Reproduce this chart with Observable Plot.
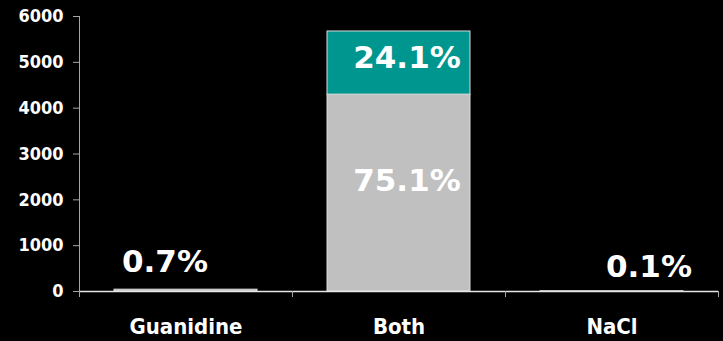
<!DOCTYPE html>
<html>
<head>
<meta charset="utf-8">
<script src="https://cdn.jsdelivr.net/npm/d3@7"></script>
<script src="https://cdn.jsdelivr.net/npm/@observablehq/plot@0.6"></script>
<style>
  html, body { margin: 0; padding: 0; background: #000; }
  #chart svg { display: block; }
</style>
</head>
<body>
<div id="chart"></div>
<script>
// Protein counts by denaturant condition, shown as shares of the total
const categories = ["Guanidine", "Both", "NaCl"];
const totalCount = 5719;
const lowerPct = [0.7, 75.1, 0.1];   // grey segment
const upperPct = [0, 24.1, 0];       // teal segment (Both only)
const yTicks = [0, 1000, 2000, 3000, 4000, 5000, 6000];

// Build stacked rectangles from the shares
const rows = [];
categories.forEach((cat, i) => {
  const low = lowerPct[i] * totalCount / 100;
  rows.push({cat, i, part: "lower", pct: lowerPct[i], y1: 0, y2: low});
  if (upperPct[i] > 0) {
    const up = upperPct[i] * totalCount / 100;
    rows.push({cat, i, part: "upper", pct: upperPct[i], y1: low, y2: low + up});
  }
});
const mid = r => (r.y1 + r.y2) / 2;
const pick = (cat, part) => rows.filter(r => r.cat === cat && r.part === part);
const labelStyle = {
  text: r => r.pct.toFixed(1) + "%",
  fill: "white",
  fontFamily: "'DejaVu Sans', sans-serif",
  fontSize: 31,
  fontWeight: "bold",
  textAnchor: "middle",
  lineAnchor: "middle"
};
const axisFont = "'DejaVu Sans Condensed', 'DejaVu Sans', sans-serif";

const chart = Plot.plot({
  width: 723,
  height: 341,
  marginLeft: 79,
  marginRight: 5,
  marginTop: 16,
  marginBottom: 50,
  style: {background: "#000", color: "white", fontFamily: axisFont},
  x: {type: "linear", domain: [0, 3], axis: null},
  y: {domain: [0, 6000], axis: null},
  marks: [
    Plot.rect(rows, {
      x1: "i", x2: r => r.i + 1, y1: "y1", y2: "y2",
      insetLeft: 35, insetRight: 35,
      fill: r => r.part === "upper" ? "#009690" : "#c0c0c0",
      stroke: "#dcdcdc", strokeWidth: 1
    }),
    // axes
    Plot.ruleX([0], {y1: 0, y2: 6000, stroke: "#a6a6a6"}),
    Plot.axisY({ticks: yTicks, tickSize: 6, tickPadding: 10, stroke: "#a6a6a6", fill: "white",
      fontFamily: axisFont, fontSize: 18, fontWeight: "bold", label: null, tickFormat: d => String(d)}),
    Plot.ruleY([0], {stroke: "#e6e6e6", strokeWidth: 1.5}),
    Plot.axisX({ticks: [0, 1, 2, 3], tickSize: 6, stroke: "#a6a6a6", label: null, tickFormat: () => ""}),
    Plot.axisX({ticks: [0.5, 1.5, 2.5], tickSize: 0, tickPadding: 27, fill: "white", label: null,
      fontFamily: axisFont, fontSize: 22, fontWeight: "bold", tickFormat: d => categories[Math.floor(d)]}),
    // share labels
    Plot.text(pick("Both", "upper"), {...labelStyle, x: r => r.i + 0.5, y: mid, dx: 8, dy: -5}),
    Plot.text(pick("Both", "lower"), {...labelStyle, x: r => r.i + 0.5, y: mid, dx: 8, dy: -12}),
    Plot.text(pick("Guanidine", "lower"), {...labelStyle, x: r => r.i + 0.5, y: "y2", dx: -21, dy: -28}),
    Plot.text(pick("NaCl", "lower"), {...labelStyle, x: r => r.i + 0.5, y: "y2", dx: 37, dy: -24})
  ]
});
document.getElementById("chart").appendChild(chart);
</script>
</body>
</html>
